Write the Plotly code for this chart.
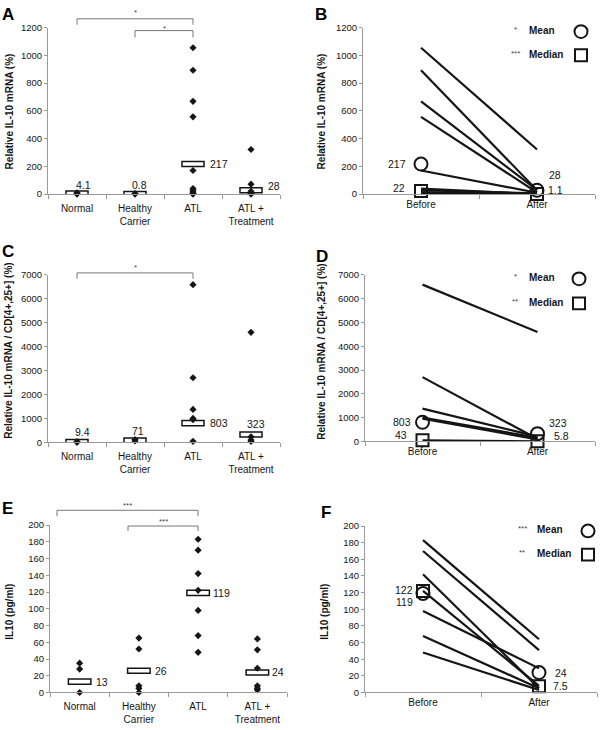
import plotly.graph_objects as go

W, H = 600, 730


def px(x):
    return x / W


def py(y):
    return 1 - y / H


FONT = "Liberation Sans, Arial, sans-serif"
INK = "#151515"
AXIS = "#9a9a9a"

groups = ["Normal", "Healthy<br>Carrier", "ATL", "ATL +<br>Treatment"]
phases = ["Before", "After"]

# ---------------- Panel A : relative IL-10 mRNA (%) ----------------
a_normal = [10, 3, 0]
a_carrier = [4, 0]
a_atl = [1055, 893, 669, 557, 170, 40, 28, 15, 5, 0]
a_treated = [322, 72, 20, 5, 0]
a_means = [4.1, 0.8, 217, 28]
a_labels = ["4.1", "0.8", "217", "28"]

# ---------------- Panel B : before / after treatment ----------------
b_before = [1055, 893, 669, 557, 170, 40, 28, 15, 5]
b_after = [322, 28, 30, 12, 10, 0, 5, 0, 0]
b_mean = [217, 28]
b_median = [22, 1.1]
b_mean_labels = ["217", "28"]
b_median_labels = ["22", "1.1"]
b_stars = ["*", "***"]

# ---------------- Panel C : IL-10 mRNA / CD[4+,25+] ----------------
c_normal = [30, 0]
c_carrier = [120, 60]
c_atl = [6590, 2700, 1375, 1000, 950, 40]
c_treated = [4600, 230, 100, 40]
c_means = [9.4, 71, 803, 323]
c_labels = ["9.4", "71", "803", "323"]

# ---------------- Panel D ----------------
d_before = [6590, 2700, 1375, 1000, 950, 40]
d_after = [4600, 100, 200, 150, 80, 0]
d_mean = [803, 323]
d_median = [43, 5.8]
d_mean_labels = ["803", "323"]
d_median_labels = ["43", "5.8"]
d_stars = ["*", "**"]

# ---------------- Panel E : IL10 (pg/ml) ----------------
e_normal = [35, 28, 0]
e_carrier = [65, 52, 8, 5, 0]
e_atl = [183, 170, 142, 122, 98, 68, 48]
e_treated = [64, 51, 29, 8, 5, 3]
e_means = [13, 26, 119, 24]
e_labels = ["13", "26", "119", "24"]

# ---------------- Panel F ----------------
f_before = [183, 170, 142, 122, 98, 68, 48]
f_after = [64, 51, 5, 8, 29, 5, 3]
f_mean = [119, 24]
f_median = [122, 7.5]
f_mean_labels = ["119", "24"]
f_median_labels = ["122", "7.5"]
f_stars = ["***", "**"]

fig = go.Figure()
annotations = []
shapes = []

# ---------- axes geometry (pixels) ----------
panels = {
    # name: (x-left, x-right, y-top, y-bottom)
    "A": (48, 280, 22, 191),
    "B": (363, 595, 22, 191),
    "C": (48, 280, 273, 443),
    "D": (365, 595, 273, 442),
    "E": (50, 287, 527, 697),
    "F": (365, 597, 528, 697),
}
axis_ids = {"A": "", "B": "2", "C": "3", "D": "4", "E": "5", "F": "6"}
yranges = {"A": (0, 1200, 200), "B": (0, 1200, 200), "C": (0, 7000, 1000),
           "D": (0, 7000, 1000), "E": (0, 200, 20), "F": (0, 200, 20)}

layout_axes = {}
for name, (xl, xr, yt, yb) in panels.items():
    k = axis_ids[name]
    is_cat = name in "ACE"
    xa = dict(
        domain=[px(xl), px(xr)], anchor="y" + k, type="category",
        categoryorder="array", categoryarray=groups if is_cat else phases,
        range=[-0.5, 3.5] if is_cat else [-0.5, 1.5],
        showline=True, linecolor=AXIS, linewidth=1,
        ticks="outside", tickson="boundaries", ticklen=4, tickcolor=AXIS,
        tickfont=dict(family=FONT, size=10, color=INK),
        ticklabelstandoff=5 if is_cat else 1,
        showgrid=False, zeroline=False, fixedrange=True,
    )
    y0, y1, dt = yranges[name]
    ya = dict(
        domain=[py(yb), py(yt)], anchor="x" + k, range=[y0, y1], dtick=dt,
        showline=True, linecolor=AXIS, linewidth=1,
        ticks="outside", ticklen=3, tickcolor=AXIS,
        tickfont=dict(family=FONT, size=9.5, color=INK),
        showgrid=False, zeroline=False, fixedrange=True,
    )
    layout_axes["xaxis" + k] = xa
    layout_axes["yaxis" + k] = ya


# ---------- dot-plot panels (A, C, E) ----------
def dot_panel(k, series, means, labels, box_h, label_offsets):
    for g, vals in zip(groups, series):
        fig.add_trace(go.Scatter(
            x=[g] * len(vals), y=vals, mode="markers", xaxis="x" + k, yaxis="y" + k,
            marker=dict(symbol="diamond", size=5.5, color=INK),
            cliponaxis=False, showlegend=False, hoverinfo="skip"))
    fig.add_trace(go.Bar(
        x=groups, y=[box_h] * len(means), base=[m - box_h / 2 for m in means],
        width=0.38, xaxis="x" + k, yaxis="y" + k,
        marker=dict(color="white", line=dict(color=INK, width=1.5)),
        cliponaxis=False, showlegend=False, hoverinfo="skip"))
    for g, m, t, (xs, ys, anc) in zip(groups, means, labels, label_offsets):
        annotations.append(dict(
            x=g, y=m, xref="x" + k, yref="y" + k, text=t, showarrow=False,
            xshift=xs, yshift=ys, xanchor=anc, yanchor="middle",
            font=dict(family=FONT, size=10.5, color=INK)))


dot_panel("", [a_normal, a_carrier, a_atl, a_treated], a_means, a_labels, 36,
          [(6, 9, "center"), (4, 9, "center"), (15, 0, "left"), (15, 4, "left")])
dot_panel("3", [c_normal, c_carrier, c_atl, c_treated], c_means, c_labels, 210,
          [(5, 10, "center"), (3, 10, "center"), (15, 0, "left"), (5, 11, "center")])
dot_panel("5", [e_normal, e_carrier, e_atl, e_treated], e_means, e_labels, 6,
          [(14, 0, "left"), (14, 0, "left"), (13, 0, "left"), (13, 0, "left")])


# ---------- paired panels (B, D, F) ----------
def pair_panel(k, before, after, mean, median, mean_lab, med_lab, offs):
    for b, a in zip(before, after):
        fig.add_trace(go.Scatter(
            x=phases, y=[b, a], mode="lines", xaxis="x" + k, yaxis="y" + k,
            line=dict(color=INK, width=2.2), cliponaxis=False,
            showlegend=False, hoverinfo="skip"))
    fig.add_trace(go.Scatter(
        x=phases, y=mean, mode="markers", xaxis="x" + k, yaxis="y" + k,
        marker=dict(symbol="circle-open", size=13, color=INK, line=dict(width=2)),
        cliponaxis=False, showlegend=False, hoverinfo="skip"))
    fig.add_trace(go.Scatter(
        x=phases, y=median, mode="markers", xaxis="x" + k, yaxis="y" + k,
        marker=dict(symbol="square-open", size=12, color=INK, line=dict(width=2)),
        cliponaxis=False, showlegend=False, hoverinfo="skip"))
    labs = [(phases[0], mean[0], mean_lab[0]), (phases[1], mean[1], mean_lab[1]),
            (phases[0], median[0], med_lab[0]), (phases[1], median[1], med_lab[1])]
    for (x, y, t), (xs, ys, anc) in zip(labs, offs):
        annotations.append(dict(
            x=x, y=y, xref="x" + k, yref="y" + k, text=t, showarrow=False,
            xshift=xs, yshift=ys, xanchor=anc, yanchor="middle",
            font=dict(family=FONT, size=10.5, color=INK)))


pair_panel("2", b_before, b_after, b_mean, b_median, b_mean_labels, b_median_labels,
           [(-13, 0, "right"), (10, 15, "left"), (-14, 3, "right"), (9, 4, "left")])
pair_panel("4", d_before, d_after, d_mean, d_median, d_mean_labels, d_median_labels,
           [(-9, 0, "right"), (9, 11, "left"), (-13, 5, "right"), (14, 5, "left")])
pair_panel("6", f_before, f_after, f_mean, f_median, f_mean_labels, f_median_labels,
           [(-8, -9, "right"), (14, 0, "left"), (-8, 1, "right"), (12, 0, "left")])


# ---------- in-panel legends (Mean / Median) ----------
def legend(stars, star_x, text_x, sym_x, y_mean, y_med):
    for (s, y, label, sym) in [(stars[0], y_mean, "Mean", "circle"),
                               (stars[1], y_med, "Median", "rect")]:
        annotations.append(dict(x=px(star_x), y=py(y - 1), xref="paper", yref="paper",
                                text=s, showarrow=False, xanchor="center", yanchor="middle",
                                font=dict(family=FONT, size=8, color="#444")))
        annotations.append(dict(x=px(text_x), y=py(y), xref="paper", yref="paper",
                                text="<b>" + label + "</b>", showarrow=False,
                                xanchor="left", yanchor="middle",
                                font=dict(family=FONT, size=10, color=INK)))
        r = 6.5 if sym == "circle" else 6
        shapes.append(dict(type=sym, xref="paper", yref="paper",
                           x0=px(sym_x - r), x1=px(sym_x + r), y0=py(y + 1 + r), y1=py(y + 1 - r),
                           line=dict(color=INK, width=2), fillcolor="rgba(0,0,0,0)"))


legend(b_stars, 515, 527, 581, 25, 49)
legend(d_stars, 515, 527, 579, 276, 301)
legend(f_stars, 522, 535, 588, 532, 556)


# ---------- significance brackets ----------
def bracket(x0, x1, ytop, ybot, star, star_y):
    shapes.append(dict(type="path", xref="paper", yref="paper",
                       path=f"M {px(x0)} {py(ybot)} L {px(x0)} {py(ytop)} L {px(x1)} {py(ytop)} L {px(x1)} {py(ybot)}",
                       line=dict(color="#777", width=1)))
    annotations.append(dict(x=px((x0 + x1) / 2), y=py(star_y), xref="paper", yref="paper",
                            text=star, showarrow=False, xanchor="center", yanchor="middle",
                            font=dict(family=FONT, size=8, color="#444")))


bracket(77, 193, 13, 19, "*", 7)
bracket(135, 193, 25, 32, "*", 23)
bracket(77, 193, 271, 277, "*", 265)
bracket(57, 198, 512, 518, "***", 507)
bracket(128, 198, 528, 533, "***", 523)

# ---------- y-axis titles ----------
ytitles = [
    ("Relative IL-10 mRNA (%)", 9, 107),
    ("Relative IL-10 mRNA (%)", 321, 107),
    ("Relative IL-10 mRNA / CD[4+,25+] (%)", 9, 350),
    ("Relative IL-10 mRNA / CD[4+,25+] (%)", 322, 351),
    ("IL10 (pg/ml)", 10, 615),
    ("IL10 (pg/ml)", 325, 615),
]
for t, x, y in ytitles:
    annotations.append(dict(x=px(x), y=py(y), xref="paper", yref="paper",
                            text="<b>" + t + "</b>", showarrow=False, textangle=-90,
                            xanchor="center", yanchor="middle",
                            font=dict(family=FONT, size=10, color=INK)))

# ---------- panel letters ----------
letters = [("A", 8, 9), ("B", 321, 9), ("C", 8, 249), ("D", 322, 254), ("E", 7, 510), ("F", 326, 514)]
for t, x, y in letters:
    annotations.append(dict(x=px(x), y=py(y), xref="paper", yref="paper",
                            text="<b>" + t + "</b>", showarrow=False,
                            xanchor="center", yanchor="middle",
                            font=dict(family=FONT, size=17, color="#000")))

fig.update_layout(
    width=W, height=H, margin=dict(l=0, r=0, t=0, b=0),
    paper_bgcolor="white", plot_bgcolor="white",
    showlegend=False, annotations=annotations, shapes=shapes,
    font=dict(family=FONT, color=INK),
    **layout_axes,
)

fig.write_html("out.html", config={"displayModeBar": False},
               post_script="document.body.style.margin='0';document.body.style.overflow='hidden';")
